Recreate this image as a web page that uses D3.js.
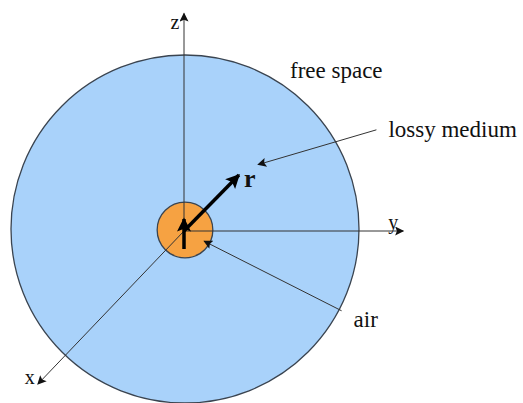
<!DOCTYPE html>
<meta charset="utf-8">
<script src="https://cdn.jsdelivr.net/npm/d3@7"></script>
<style>
body { margin: 0; background: #fff; }
text { font-family: "Liberation Serif", "DejaVu Serif", serif; fill: #111; }
</style>
<body>
<script>

// regions of the model, radius as a fraction of the outer sphere
var regionNames = ["lossy medium", "air"];
var regionRadius = [1, 0.16];

// axis labels and their end points in diagram units (origin = sphere centre)
var axisNames = ["z", "y", "x"];
var axisEndU = [0, 1.26, -0.84];
var axisEndV = [1.25, 0, -0.88];

// labels with leader lines: [label, text anchor point, arrow tip] in diagram units
var calloutNames = ["lossy medium", "air"];
var calloutFrom = [[1.1, 0.57], [0.9, -0.47]];
var calloutTo = [[0.42, 0.37], [0.11, -0.07]];

var width = 523, height = 403;
var cx = 185, cy = 229, R = 174;

var sx = d3.scaleLinear().domain([-1, 1]).range([cx - R, cx + R]);
var sy = d3.scaleLinear().domain([-1, 1]).range([cy + R, cy - R]);

var svg = d3.select("body").append("svg")
    .attr("width", width)
    .attr("height", height);

var defs = svg.append("defs");
defs.append("marker")
    .attr("id", "head")
    .attr("viewBox", "0 0 10 10")
    .attr("refX", 9).attr("refY", 5)
    .attr("markerWidth", 13).attr("markerHeight", 9)
    .attr("markerUnits", "userSpaceOnUse")
    .attr("orient", "auto")
  .append("path")
    .attr("d", "M0,0L10,5L0,10L2,5Z")
    .attr("fill", "#111");

defs.append("marker")
    .attr("id", "thick")
    .attr("viewBox", "0 0 10 10")
    .attr("refX", 9).attr("refY", 5)
    .attr("markerWidth", 18).attr("markerHeight", 14)
    .attr("markerUnits", "userSpaceOnUse")
    .attr("orient", "auto")
  .append("path")
    .attr("d", "M0,0L10,5L0,10L2,5Z")
    .attr("fill", "#000");

// spheres
var fills = ["#a9d2fa", "#f6a242"];
svg.selectAll("circle.region")
    .data(regionNames)
    .enter().append("circle")
    .attr("class", "region")
    .attr("cx", sx(0))
    .attr("cy", function(d, i) { return i == 0 ? sy(0) : sy(0) + 1; })
    .attr("r", function(d, i) { return sx(regionRadius[i]) - sx(0); })
    .attr("fill", function(d, i) { return fills[i]; })
    .attr("stroke", "#3a4450")
    .attr("stroke-width", 1.3);

// axes, measured from a slightly offset origin
var ox = sx(0) - 1, oy = sy(0) + 2;
function ax(i) { return ox + sx(axisEndU[i]) - sx(0); }
function ay(i) { return oy + sy(axisEndV[i]) - sy(0); }

svg.selectAll("line.axis")
    .data(axisNames)
    .enter().append("line")
    .attr("class", "axis")
    .attr("x1", ox).attr("y1", oy)
    .attr("x2", function(d, i) { return ax(i); })
    .attr("y2", function(d, i) { return ay(i); })
    .attr("stroke", "#333")
    .attr("stroke-width", 1)
    .attr("marker-end", "url(#head)");

var labelDx = [-9, -10, -8], labelDy = [15, -2, 0];
svg.selectAll("text.axis")
    .data(axisNames)
    .enter().append("text")
    .attr("class", "axis")
    .attr("x", function(d, i) { return ax(i) + labelDx[i]; })
    .attr("y", function(d, i) { return ay(i) + labelDy[i]; })
    .attr("text-anchor", "middle")
    .style("font-size", "20px")
    .text(function(d) { return d; });

// thick stub at the origin pointing up
svg.append("line")
    .attr("x1", ox).attr("y1", oy + 18)
    .attr("x2", ox).attr("y2", oy - 12)
    .attr("stroke", "#000")
    .attr("stroke-width", 3.5)
    .attr("marker-end", "url(#thick)");

// r vector
svg.append("line")
    .attr("x1", ox).attr("y1", oy)
    .attr("x2", sx(0.31)).attr("y2", sy(0.31))
    .attr("stroke", "#000")
    .attr("stroke-width", 3.5)
    .attr("marker-end", "url(#thick)");

svg.append("text")
    .attr("x", sx(0.31) + 5)
    .attr("y", sy(0.31) + 12)
    .style("font-size", "26px")
    .style("font-weight", "bold")
    .text("r");

// callouts
svg.selectAll("line.callout")
    .data(calloutNames)
    .enter().append("line")
    .attr("class", "callout")
    .attr("x1", function(d, i) { return sx(calloutFrom[i][0]); })
    .attr("y1", function(d, i) { return sy(calloutFrom[i][1]); })
    .attr("x2", function(d, i) { return sx(calloutTo[i][0]); })
    .attr("y2", function(d, i) { return sy(calloutTo[i][1]); })
    .attr("stroke", "#333")
    .attr("stroke-width", 1)
    .attr("marker-end", "url(#head)");

var calloutDx = [12, 12], calloutDy = [7, 16];
svg.selectAll("text.callout")
    .data(calloutNames)
    .enter().append("text")
    .attr("class", "callout")
    .attr("x", function(d, i) { return sx(calloutFrom[i][0]) + calloutDx[i]; })
    .attr("y", function(d, i) { return sy(calloutFrom[i][1]) + calloutDy[i]; })
    .style("font-size", "23px")
    .text(function(d) { return d; });

// outside region label
svg.append("text")
    .attr("x", 290)
    .attr("y", 78)
    .style("font-size", "23px")
    .text("free space");

</script>
</body>
